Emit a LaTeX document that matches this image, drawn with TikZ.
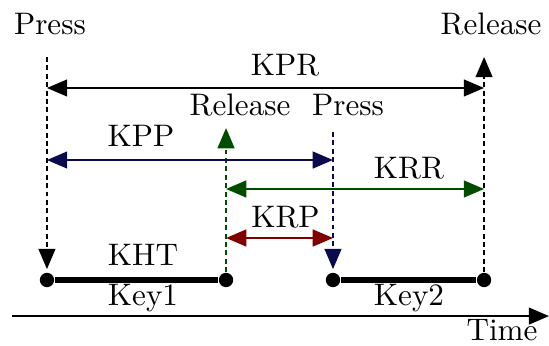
\documentclass[tikz,border=0pt]{standalone}
\usepackage{tikz}
\usetikzlibrary{positioning,arrows.meta,calc}
\usepackage{xcolor}
\definecolor{KeyGreen}{HTML}{004D00}
\definecolor{KeyNavy}{HTML}{0A0A4D}
\definecolor{KeyRed}{HTML}{800000}

\tikzset{
  tip/.style={-{Triangle[length=6.5pt,width=5.4pt]}},
  span/.style={{Triangle[length=6.5pt,width=5.4pt]}-{Triangle[length=6.5pt,width=5.4pt]}, semithick},
  evline/.style={dash pattern=on 1.6pt off 1.1pt, line width=0.6pt},
  keydot/.style={circle, fill=black, inner sep=0pt, minimum size=4.6pt},
  keyline/.style={line width=1.8pt},
  lbl/.style={anchor=base, inner sep=0pt}
}

\begin{document}
\begin{tikzpicture}
  \useasboundingbox (0,0) rectangle (6.196,3.894);

  % Key events on the key line
  \coordinate (kA) at (0.530,0.734);
  \coordinate (kB) at (2.551,0.734);
  \coordinate (kC) at (3.758,0.734);
  \coordinate (kD) at (5.463,0.734);

  % Levels of the interval arrows
  \coordinate (yKPR) at (0,2.901);
  \coordinate (yKPP) at (0,2.088);
  \coordinate (yKRR) at (0,1.761);
  \coordinate (yKRP) at (0,1.208);

  % Free ends of the event lines
  \coordinate (pA) at (0.530,3.251);
  \coordinate (rB) at (2.551,2.449);
  \coordinate (pC) at (3.758,2.404);
  \coordinate (rD) at (5.463,3.251);

  % Time axis
  \coordinate (t0) at (0.135,0.327);
  \coordinate (t1) at (6.196,0.327);
  \draw[tip, semithick] (t0) -- (t1);
  \node[lbl] (time) at (5.666,0.056) {Time};

  % Keys
  \foreach \k in {A,B,C,D} {
    \node[keydot] (d\k) at (k\k) {};
  }
  \draw[keyline] (dA) -- (dB);
  \draw[keyline] (dC) -- (dD);
  \node[lbl] (key1) at (1.614,0.451) {Key1};
  \node[lbl] (key2) at (4.616,0.451) {Key2};
  \node[lbl] (kht)  at (1.614,0.903) {KHT};

  % Press / release event lines
  \draw[evline, tip, shorten >=1pt] (pA) -- (dA);
  \draw[evline, tip, KeyGreen] (dB) -- (rB);
  \draw[evline, tip, KeyNavy, shorten >=1pt] (pC) -- (dC);
  \draw[evline, tip] (dD) -- (rD);

  \node[lbl] (press1)   at (0.564,3.499) {Press};
  \node[lbl] (release2) at (5.542,3.499) {Release};
  \node[lbl] (release1) at (2.709,2.596) {Release};
  \node[lbl] (press2)   at (3.928,2.596) {Press};

  % Intervals
  \draw[span] (kA |- yKPR) -- (kD |- yKPR);
  \draw[span, KeyNavy] (kA |- yKPP) -- (kC |- yKPP);
  \draw[span, KeyGreen] (kB |- yKRR) -- (kD |- yKRR);
  \draw[span, KeyRed] (kB |- yKRP) -- (kC |- yKRP);

  \node[lbl] (kpr) at (3.217,3.047) {KPR};
  \node[lbl] (kpp) at (1.591,2.235) {KPP};
  \node[lbl] (krr) at (4.616,1.874) {KRR};
  \node[lbl] (krp) at (3.222,1.321) {KRP};
\end{tikzpicture}
\end{document}
